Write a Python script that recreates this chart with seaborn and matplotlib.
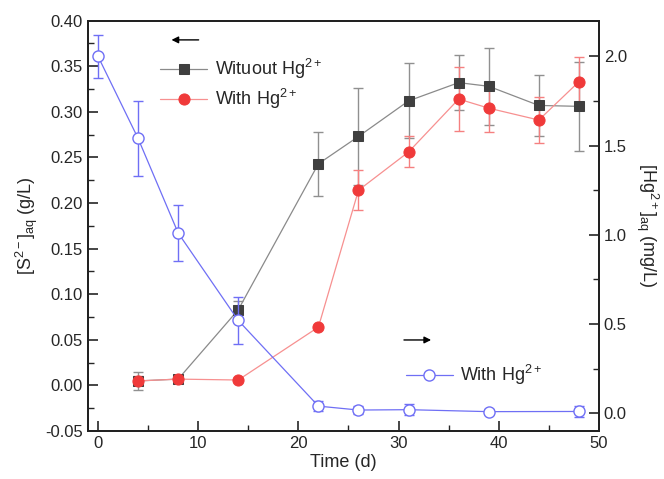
import matplotlib
matplotlib.use("Agg")
import matplotlib.pyplot as plt
from matplotlib.ticker import MultipleLocator
import seaborn as sns
import pandas as pd

# S2- (left axis, g/L)
days = [4, 8, 14, 22, 26, 31, 36, 39, 44, 48]
s_without = [0.005, 0.007, 0.083, 0.243, 0.273, 0.312, 0.332, 0.328, 0.307, 0.306]
s_without_err = [0.010, 0.003, 0.010, 0.035, 0.053, 0.041, 0.030, 0.042, 0.033, 0.049]
s_with = [0.005, 0.007, 0.006, 0.064, 0.214, 0.256, 0.314, 0.304, 0.291, 0.333]
s_with_err = [0.005, 0.002, 0.002, 0.002, 0.022, 0.017, 0.035, 0.026, 0.025, 0.027]

# Hg2+ (right axis, mg/L)
hg_days = [0, 4, 8, 14, 22, 26, 31, 39, 48]
hg_with = [2.0, 1.54, 1.01, 0.52, 0.04, 0.018, 0.02, 0.009, 0.01]
hg_err = [0.12, 0.21, 0.155, 0.13, 0.03, 0.02, 0.03, 0.015, 0.03]

sns.set_style("ticks")
plt.rcParams["font.family"] = ["Liberation Sans", "DejaVu Sans"]
plt.rcParams["mathtext.fontset"] = "custom"
plt.rcParams["mathtext.rm"] = "Liberation Sans"
plt.rcParams["mathtext.it"] = "Liberation Sans"

BLACK = "#3f3f3f"
RED = "#f03a3a"
BLUE = "#6f6ff5"

fig, ax = plt.subplots(figsize=(6.64, 4.79), dpi=100)
fig.subplots_adjust(left=0.1325, right=0.902, top=0.957, bottom=0.10)
ax2 = ax.twinx()

df = pd.DataFrame({"Time": days, "without": s_without, "with": s_with})
hg = pd.DataFrame({"Time": hg_days, "hg": hg_with})

ax.errorbar(days, s_without, yerr=s_without_err, fmt="none", ecolor="#909090",
            elinewidth=1, capsize=3.5, zorder=2)
ax.errorbar(days, s_with, yerr=s_with_err, fmt="none", ecolor="#f58080",
            elinewidth=1, capsize=3.5, zorder=2)
sns.lineplot(data=df, x="Time", y="without", ax=ax, color="#8a8a8a", lw=0.9,
             marker="s", markersize=7, markerfacecolor=BLACK, markeredgecolor=BLACK,
             label="Wituout Hg$^{2+}$", zorder=3)
sns.lineplot(data=df, x="Time", y="with", ax=ax, color="#f79090", lw=0.9,
             marker="o", markersize=8, markerfacecolor=RED, markeredgecolor=RED,
             label="With Hg$^{2+}$", zorder=4)

ax2.errorbar(hg_days, hg_with, yerr=hg_err, fmt="none", ecolor=BLUE,
             elinewidth=1, capsize=3.5, zorder=2)
sns.lineplot(data=hg, x="Time", y="hg", ax=ax2, color=BLUE, lw=0.9,
             marker="o", markersize=8, markerfacecolor="white", markeredgecolor=BLUE,
             markeredgewidth=1, label="With Hg$^{2+}$", zorder=3)

ax.set_xlim(-1, 50)
ax.set_ylim(-0.05, 0.40)
ax2.set_ylim(-0.1, 2.2)
ax.xaxis.set_major_locator(MultipleLocator(10))
ax.xaxis.set_minor_locator(MultipleLocator(5))
ax.yaxis.set_major_locator(MultipleLocator(0.05))
ax.yaxis.set_minor_locator(MultipleLocator(0.025))
ax2.yaxis.set_major_locator(MultipleLocator(0.5))
ax2.yaxis.set_minor_locator(MultipleLocator(0.25))
ax.yaxis.set_major_formatter(plt.FormatStrFormatter("%.2f"))
ax2.yaxis.set_major_formatter(plt.FormatStrFormatter("%.1f"))

for a in (ax, ax2):
    a.tick_params(which="major", direction="in", length=7, width=1.2, labelsize=12)
    a.tick_params(which="minor", direction="in", length=4, width=1)
    for s in a.spines.values():
        s.set_linewidth(1.4)
        s.set_color("#222222")

ax.set_xlabel("Time (d)", fontsize=13, labelpad=2)
ax.set_ylabel("[S$^{2-}$]$_{aq}$ (g/L)", fontsize=13)
ax2.set_ylabel("[Hg$^{2+}$]$_{aq}$ (mg/L)", fontsize=13, rotation=-90, labelpad=24)

leg1 = ax.legend(loc="upper left", bbox_to_anchor=(0.11, 0.95), frameon=False,
                 fontsize=13, handlelength=2.6, handletextpad=0.4, labelspacing=0.3)
ax2.legend(loc="upper left", bbox_to_anchor=(0.59, 0.205), frameon=False,
           fontsize=13, handlelength=2.6, handletextpad=0.4)

ax.annotate("", xy=(0.158, 0.953), xytext=(0.222, 0.953), xycoords="axes fraction",
            arrowprops=dict(arrowstyle="-|>", color="black", lw=1, mutation_scale=10))
ax.annotate("", xy=(0.677, 0.222), xytext=(0.613, 0.222), xycoords="axes fraction",
            arrowprops=dict(arrowstyle="-|>", color="black", lw=1, mutation_scale=10))

fig.savefig("out.png", dpi=100)
